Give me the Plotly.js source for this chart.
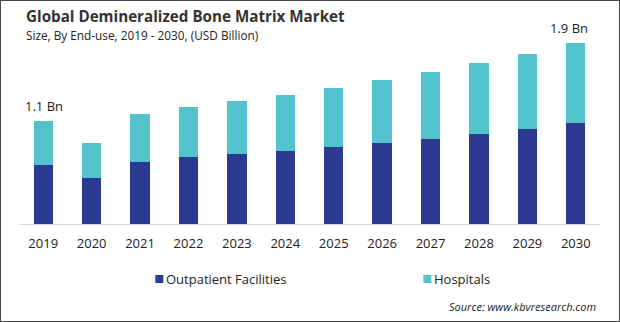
<!DOCTYPE html>
<html>
<head>
<meta charset="utf-8">
<script src="https://cdn.plot.ly/plotly-3.0.1.min.js"></script>
<style>
  html, body { margin: 0; padding: 0; background: #fff; }
  #wrap { position: relative; width: 620px; height: 322px; }
  #chart { width: 620px; height: 322px; }
  #frame { position: absolute; left: 0; top: 0; width: 620px; height: 322px; box-sizing: border-box; border: 1px solid #4a4a4a; pointer-events: none; }
</style>
</head>
<body>
<div id="wrap"><div id="chart"></div><div id="frame"></div></div>
<script>
const years = ["2019","2020","2021","2022","2023","2024","2025","2026","2027","2028","2029","2030"];
const outpatient = [0.62, 0.49, 0.66, 0.71, 0.74, 0.77, 0.815, 0.857, 0.90, 0.952, 1.005, 1.07];
const hospitals  = [0.47, 0.37, 0.50, 0.53, 0.56, 0.59, 0.625, 0.665, 0.71, 0.75, 0.795, 0.845];
const seriesNames = ["Outpatient Facilities", "Hospitals"];
const labelYears = ["2019", "2030"];
const labelTexts = ["1.1 Bn", "1.9 Bn"];

const colors = ["#2b3990", "#52c2cd"];
const font = "Open Sans, Noto Sans, sans-serif";

const totals = years.map((y, i) => outpatient[i] + hospitals[i]);
const seriesValues = [outpatient, hospitals];

const traces = seriesNames.map((nm, s) => ({
  type: "bar", x: years, y: seriesValues[s], name: nm,
  marker: { color: colors[s] }, hoverinfo: "skip", showlegend: false
}));

const annotations = labelYears.map((yr, k) => ({
  x: years.indexOf(yr), y: totals[years.indexOf(yr)], xref: "x", yref: "y",
  text: labelTexts[k], showarrow: false, yanchor: "bottom", yshift: 4,
  xshift: k === 1 ? -7 : 1,
  font: { family: font, size: 13, color: "#222" }
}));

annotations.push({
  xref: "paper", yref: "paper", x: 0.0088, y: 1.07, xanchor: "left", yanchor: "middle",
  text: "<b>Global Demineralized Bone Matrix Market</b>", showarrow: false,
  font: { family: font, size: 15.2, color: "#333" }
});
annotations.push({
  xref: "paper", yref: "paper", x: 0.0088, y: 0.972, xanchor: "left", yanchor: "middle",
  text: "Size, By End-use, 2019 - 2030, (USD Billion)", showarrow: false,
  font: { family: font, size: 11.8, color: "#222" }
});
annotations.push({
  xref: "paper", yref: "paper", x: 0.996, y: -0.423, xanchor: "right", yanchor: "middle",
  text: "<i>Source: www.kbvresearch.com</i>", showarrow: false,
  font: { family: font, size: 11, color: "#222" }
});

// custom legend (square + label)
const legendX = [0.2346, 0.6959];
const shapes = [];
seriesNames.forEach((nm, s) => {
  shapes.push({
    type: "rect", xref: "paper", yref: "paper",
    x0: legendX[s], x1: legendX[s] + 0.0138, y0: -0.2629, y1: -0.3041,
    fillcolor: colors[s], line: { width: 0 }
  });
  annotations.push({
    xref: "paper", yref: "paper", x: legendX[s] + 0.015, y: -0.2835,
    xanchor: "left", yanchor: "middle", text: nm, showarrow: false,
    font: { family: font, size: 13, color: "#222" }
  });
});

const layout = {
  width: 620, height: 322,
  margin: { l: 19, r: 20, t: 30, b: 98 },
  barmode: "stack",
  bargap: 0.6,
  paper_bgcolor: "#fff", plot_bgcolor: "#fff",
  showlegend: false,
  xaxis: {
    type: "category", range: [-0.5, 11.5], showgrid: false, showline: true,
    linecolor: "#d9d9d9", linewidth: 1, ticks: "", ticklabelstandoff: 7,
    tickfont: { family: font, size: 13, color: "#222" }, fixedrange: true
  },
  yaxis: {
    range: [0, 2.053], visible: false, showgrid: false, zeroline: false, fixedrange: true
  },
  annotations: annotations,
  shapes: shapes
};

Plotly.newPlot("chart", traces, layout, { displayModeBar: false, staticPlot: true });
</script>
</body>
</html>
